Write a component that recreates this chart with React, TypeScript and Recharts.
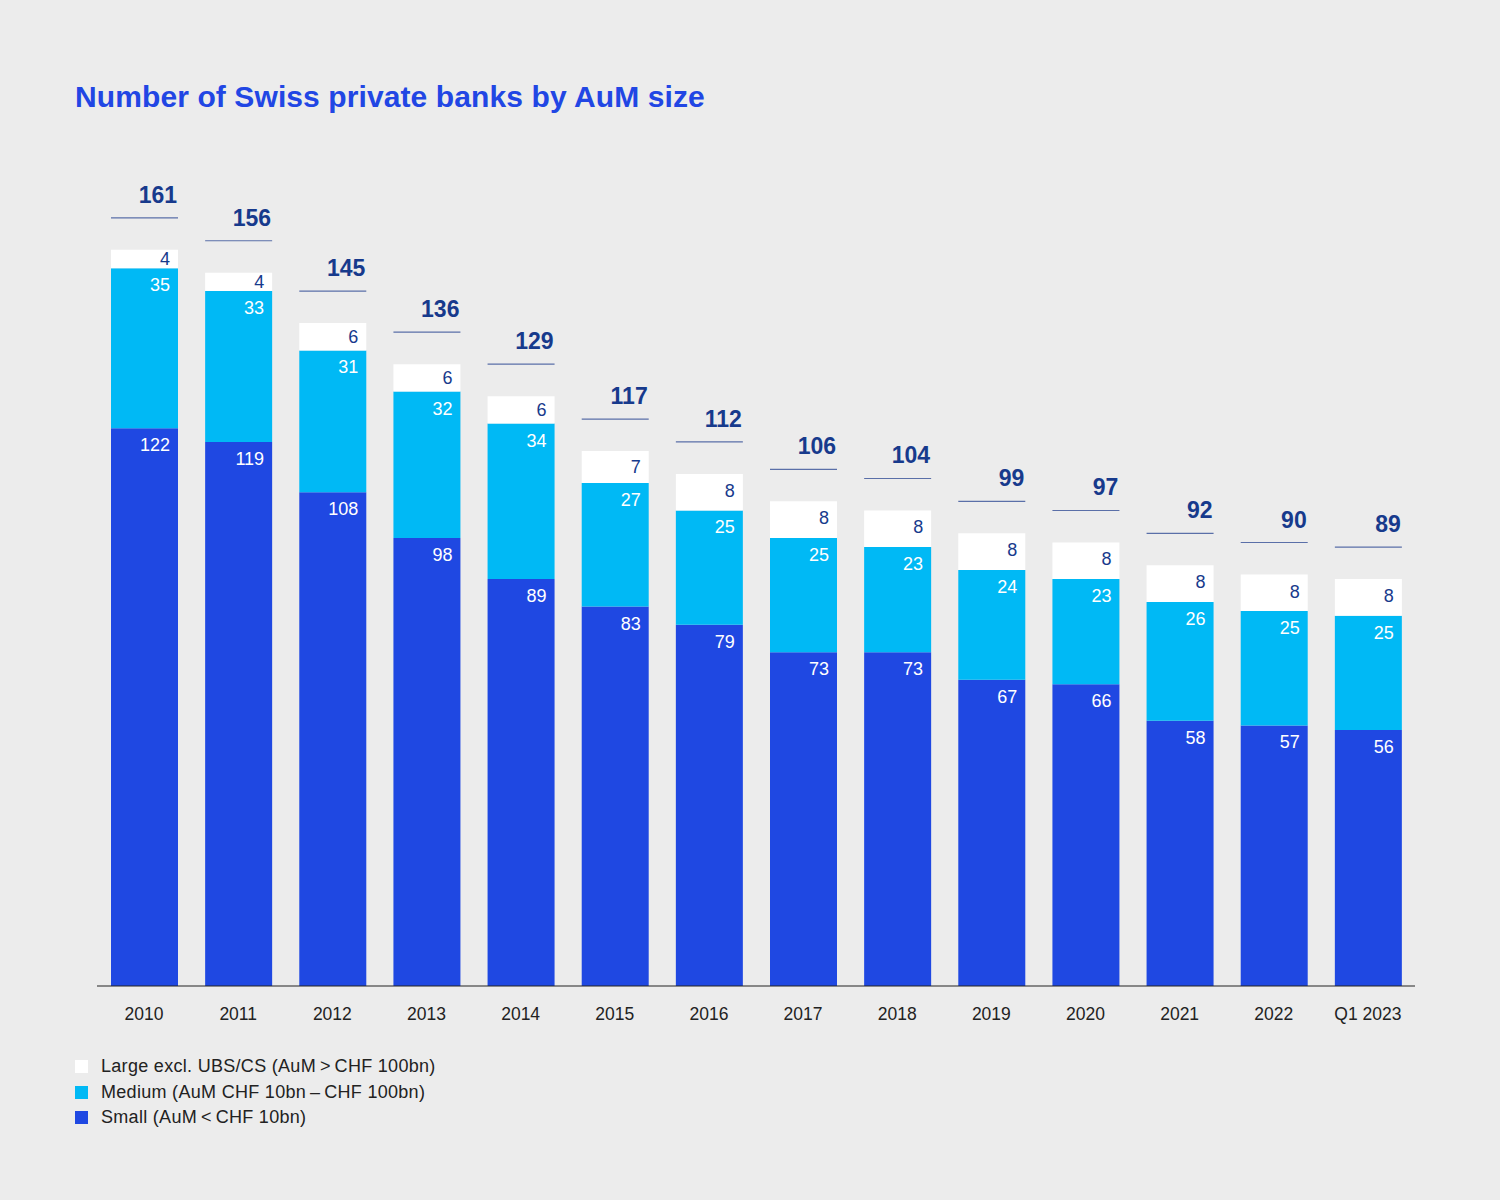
import { BarChart, Bar, XAxis, YAxis, Legend, LabelList } from 'recharts'

const years = ['2010', '2011', '2012', '2013', '2014', '2015', '2016', '2017', '2018', '2019', '2020', '2021', '2022', 'Q1 2023']
const small = [122, 119, 108, 98, 89, 83, 79, 73, 73, 67, 66, 58, 57, 56]
const medium = [35, 33, 31, 32, 34, 27, 25, 25, 23, 24, 23, 26, 25, 25]
const large = [4, 4, 6, 6, 6, 7, 8, 8, 8, 8, 8, 8, 8, 8]
const totals = [161, 156, 145, 136, 129, 117, 112, 106, 104, 99, 97, 92, 90, 89]

const seriesNames = {
  large: 'Large excl. UBS/CS (AuM\u2009>\u2009CHF 100bn)',
  medium: 'Medium (AuM CHF 10bn\u2009\u2013\u2009CHF 100bn)',
  small: 'Small (AuM\u2009<\u2009CHF 10bn)',
}

const FONT = '"Liberation Sans", Arial, sans-serif'
const NAVY = '#173a8c'
const COLORS = { small: '#1f48e2', medium: '#00b9f5', large: '#ffffff' }

const data = years.map((year, i) => ({
  year,
  small: small[i],
  medium: medium[i],
  large: large[i],
}))

const segmentLabel = (fill: string) => (props: any) => {
  const { x, y, width, height, value } = props
  const dy = Math.min(17, height / 2)
  return (
    <text
      x={x + width - 8}
      y={y + dy}
      textAnchor="end"
      dominantBaseline="central"
      fill={fill}
      fontSize={18}
      fontFamily={FONT}
    >
      {value}
    </text>
  )
}

const totalLabel = (props: any) => {
  const { x, y, width, index } = props
  return (
    <g>
      <line x1={x} x2={x + width} y1={y - 32} y2={y - 32} stroke="#5a6fa8" strokeWidth={1.2} />
      <text
        x={x + width - 1}
        y={y - 55}
        textAnchor="end"
        dominantBaseline="central"
        fill={NAVY}
        fontSize={23}
        fontWeight="bold"
        fontFamily={FONT}
      >
        {totals[index]}
      </text>
    </g>
  )
}

const legendContent = () => {
  const items = [
    { key: 'large', label: seriesNames.large },
    { key: 'medium', label: seriesNames.medium },
    { key: 'small', label: seriesNames.small },
  ]
  return (
    <div style={{ fontFamily: FONT, fontSize: 18, letterSpacing: 0.3, color: '#222' }}>
      {items.map((it) => (
        <div key={it.key} style={{ display: 'flex', alignItems: 'center', height: 25.5 }}>
          <span
            style={{
              width: 13,
              height: 13,
              background: COLORS[it.key as keyof typeof COLORS],
              marginRight: 13,
              display: 'inline-block',
            }}
          />
          <span>{it.label}</span>
        </div>
      ))}
    </div>
  )
}

export default function App() {
  return (
    <div style={{ position: 'absolute', left: 0, top: 0, width: 1500, height: 1200, background: '#ececec' }}>
      <div
        style={{
          position: 'absolute',
          left: 75,
          top: 80,
          fontFamily: FONT,
          fontWeight: 'bold',
          fontSize: 30,
          letterSpacing: 0.1,
          color: '#2146e4',
          whiteSpace: 'nowrap',
        }}
      >
        Number of Swiss private banks by AuM size
      </div>
      <BarChart
        width={1500}
        height={1200}
        data={data}
        margin={{ top: 163, right: 85, bottom: 184, left: 97 }}
        barCategoryGap="14%"
      >
        <XAxis
          dataKey="year"
          height={30}
          axisLine={{ stroke: '#222', strokeWidth: 1 }}
          tickLine={false}
          tickMargin={16}
          tick={{ fill: '#222', fontSize: 17.5, fontFamily: FONT }}
          interval={0}
        />
        <YAxis hide domain={[0, 180]} />
        <Legend
          layout="horizontal"
          verticalAlign="middle"
          align="center"
          content={legendContent}
          wrapperStyle={{ left: 75, top: 1054, width: 'auto' }}
        />
        <Bar dataKey="small" stackId="a" fill={COLORS.small} barSize={67} isAnimationActive={false}>
          <LabelList dataKey="small" content={segmentLabel('#ffffff')} />
        </Bar>
        <Bar dataKey="medium" stackId="a" fill={COLORS.medium} barSize={67} isAnimationActive={false}>
          <LabelList dataKey="medium" content={segmentLabel('#ffffff')} />
        </Bar>
        <Bar dataKey="large" stackId="a" fill={COLORS.large} barSize={67} isAnimationActive={false}>
          <LabelList dataKey="large" content={segmentLabel(NAVY)} />
          <LabelList dataKey="large" content={totalLabel} />
        </Bar>
      </BarChart>
    </div>
  )
}
